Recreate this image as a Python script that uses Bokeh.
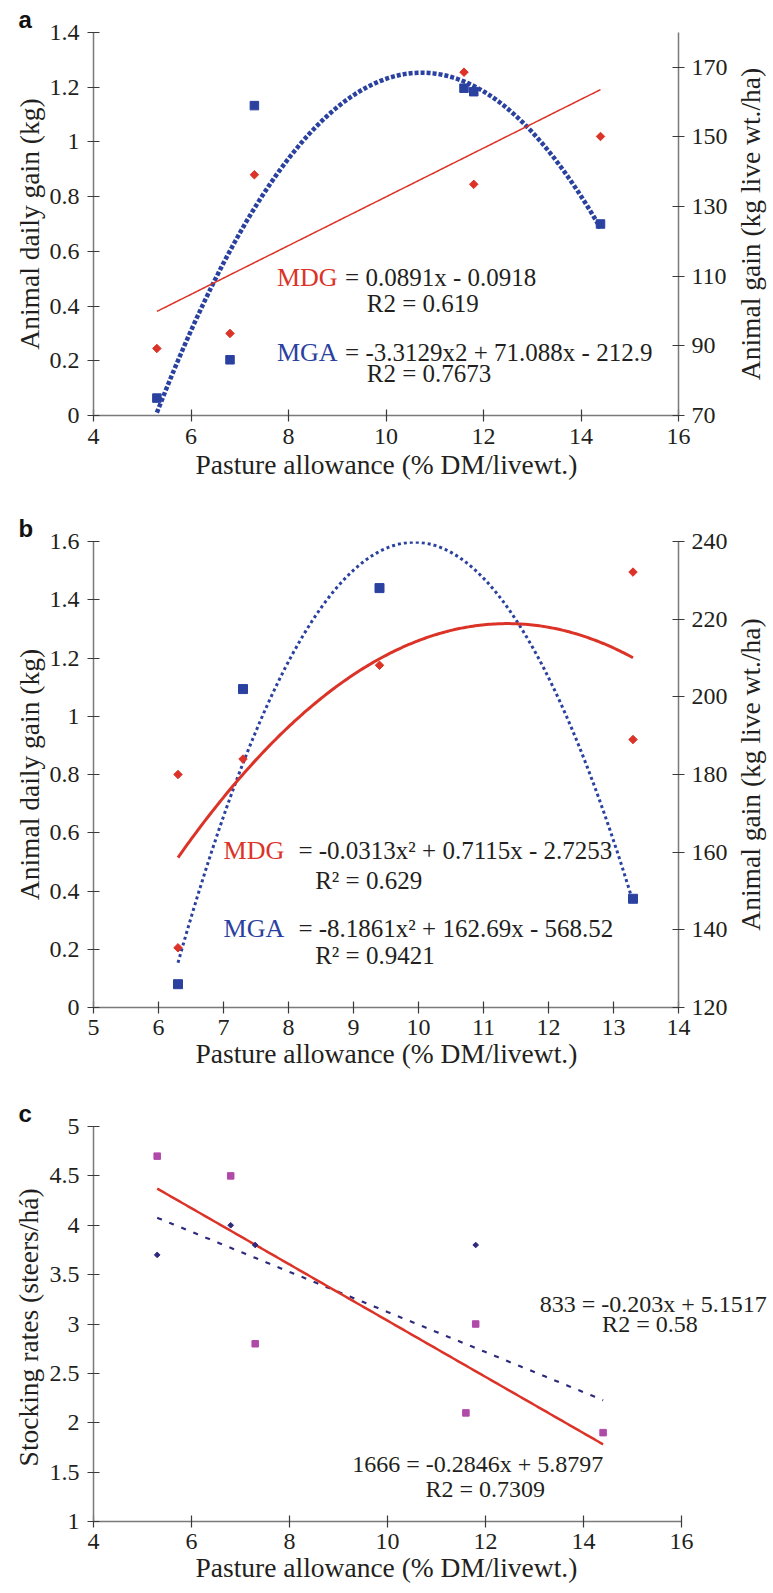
import numpy as np
from bokeh.plotting import figure
from bokeh.models import Range1d, LinearAxis, FixedTicker, Label, Title
from bokeh.layouts import column, row
from bokeh.embed import file_html
from bokeh.resources import INLINE

# ---------------- data ----------------
# Panel a
a_pasture = [5.3, 6.8, 7.3, 11.6, 11.8, 14.4]
a_mdg = [0.245, 0.30, 0.88, 1.255, 0.845, 1.02]
a_mga = [75.0, 86.0, 159.0, 164.0, 163.0, 125.0]
a_mdg_fit = [0.0891, -0.0918]
a_mga_fit = [-3.3129, 71.088, -212.9]
a_fit_span = [5.3, 14.4]
a_x_ticks = [4, 6, 8, 10, 12, 14, 16]
a_left_ticks = [0, 0.2, 0.4, 0.6, 0.8, 1, 1.2, 1.4]
a_left_labels = ["0", "0.2", "0.4", "0.6", "0.8", "1", "1.2", "1.4"]
a_right_ticks = [70, 90, 110, 130, 150, 170]

# Panel b
b_mdg_x = [6.3, 6.3, 7.3, 9.4, 13.3, 13.3]
b_mdg = [0.80, 0.205, 0.853, 1.175, 1.495, 0.92]
b_mga_x = [6.3, 7.3, 9.4, 13.3]
b_mga = [126.0, 202.0, 228.0, 148.0]
b_mdg_fit = [-0.0313, 0.7115, -2.7253]
b_mga_fit = [-8.1861, 162.69, -568.52]
b_fit_span = [6.3, 13.3]
b_x_ticks = [5, 6, 7, 8, 9, 10, 11, 12, 13, 14]
b_left_ticks = [0, 0.2, 0.4, 0.6, 0.8, 1, 1.2, 1.4, 1.6]
b_left_labels = ["0", "0.2", "0.4", "0.6", "0.8", "1", "1.2", "1.4", "1.6"]
b_right_ticks = [120, 140, 160, 180, 200, 220, 240]

# Panel c
c_x_1666 = [5.3, 6.8, 7.3, 11.6, 11.8, 14.4]
c_1666 = [4.7, 4.5, 2.8, 2.1, 3.0, 1.9]
c_x_833 = [5.3, 6.8, 7.3, 11.8]
c_833 = [3.7, 4.0, 3.8, 3.8]
c_fit_1666 = [-0.2846, 5.8797]
c_fit_833 = [-0.203, 5.1517]
c_fit_span = [5.3, 14.4]
c_x_ticks = [4, 6, 8, 10, 12, 14, 16]
c_y_ticks = [1, 1.5, 2, 2.5, 3, 3.5, 4, 4.5, 5]
c_y_labels = ["1", "1.5", "2", "2.5", "3", "3.5", "4", "4.5", "5"]

# ---------------- style ----------------
SERIF = "Liberation Serif"
SANS = "Liberation Sans"
INK = "#231f20"
AXIS = "#7a7a7a"
TICK = "#3a3a3a"
RED = "#dc3328"
BLUE = "#2a41a0"
MAGENTA = "#b04aa9"
NAVY = "#2d2a7c"
TITLE_SIZE = "27.5px"
X_TITLE = "Pasture allowance (% DM/livewt.)"
RIGHT_TITLE = "Animal gain (kg live wt./ha)"


def base_fig(width, height, x_rng, y_rng, top, bottom, right):
    p = figure(width=width, height=height, x_range=Range1d(*x_rng), y_range=Range1d(*y_rng),
               output_backend="svg", toolbar_location=None,
               min_border_top=top, min_border_bottom=bottom,
               min_border_left=93, min_border_right=right)
    p.outline_line_color = None
    p.xgrid.visible = False
    p.ygrid.visible = False
    p.background_fill_color = "white"
    p.border_fill_color = "white"
    return p


def style_axis(ax, ticks, labels=None, label_standoff=8, title_standoff=2):
    ax.ticker = FixedTicker(ticks=ticks)
    if labels is not None:
        ax.major_label_overrides = dict(zip(ticks, labels))
    ax.axis_line_color = AXIS
    ax.axis_line_width = 1.5
    ax.major_tick_line_color = TICK
    ax.major_tick_line_width = 1.2
    ax.major_tick_in = 6
    ax.major_tick_out = 6
    ax.minor_tick_line_color = None
    ax.major_label_text_font = SERIF
    ax.major_label_text_font_size = "24px"
    ax.major_label_text_color = INK
    ax.major_label_standoff = label_standoff
    ax.axis_label_text_font = SERIF
    ax.axis_label_text_font_size = TITLE_SIZE
    ax.axis_label_text_font_style = "normal"
    ax.axis_label_text_color = INK
    ax.axis_label_standoff = title_standoff


def x_title(p, standoff):
    p.add_layout(Title(text=X_TITLE, align="left", offset=102, standoff=standoff,
                       vertical_align="top", text_font=SERIF, text_font_size=TITLE_SIZE,
                       text_font_style="normal", text_color=INK), "below")


def text(p, x, y, s, color=INK, size="25px"):
    p.add_layout(Label(x=x, y=y, text=s, text_font=SERIF, text_font_size=size,
                       text_color=color, text_align="left", text_baseline="middle"))


def letter(p, s, offset):
    p.title.text = s
    p.title.align = "left"
    p.title.offset = offset
    p.title.standoff = 0
    p.title.vertical_align = "bottom"
    p.title.text_font = SANS
    p.title.text_font_size = "24px"
    p.title.text_font_style = "bold"
    p.title.text_color = "#111111"


def side_title(width, height, top, bottom):
    # a narrow figure whose (tick-less) left axis carries the right-hand axis title
    s = figure(width=width, height=height, x_range=Range1d(0, 1), y_range=Range1d(0, 1),
               output_backend="svg", toolbar_location=None, x_axis_type=None,
               min_border_left=35, min_border_right=0, min_border_top=top,
               min_border_bottom=bottom)
    s.outline_line_color = None
    s.xgrid.visible = False
    s.ygrid.visible = False
    s.background_fill_color = "white"
    s.border_fill_color = "white"
    ax = s.yaxis[0]
    ax.ticker = FixedTicker(ticks=[])
    ax.axis_line_color = None
    ax.major_tick_line_color = None
    ax.minor_tick_line_color = None
    ax.major_tick_in = 0
    ax.major_tick_out = 0
    ax.major_label_standoff = 0
    ax.axis_label = RIGHT_TITLE
    ax.axis_label_standoff = 0
    ax.axis_label_text_font = SERIF
    ax.axis_label_text_font_size = TITLE_SIZE
    ax.axis_label_text_font_style = "normal"
    ax.axis_label_text_color = INK
    return s


def fit_line(coef, span, n=200):
    xs = np.linspace(span[0], span[1], n)
    return xs, np.polyval(coef, xs)


MAIN_W = 730
SIDE_W = 773 - MAIN_W

# ---------------- panel a ----------------
pa = base_fig(MAIN_W, 495, (4, 16), (0, 1.4), top=32, bottom=80, right=MAIN_W - 679)
pa.extra_y_ranges = {"r": Range1d(70, 180)}
style_axis(pa.xaxis[0], a_x_ticks, label_standoff=7)
x_title(pa, 4)
style_axis(pa.yaxis[0], a_left_ticks, a_left_labels, title_standoff=2)
pa.yaxis[0].axis_label = "Animal daily gain (kg)"
ra = LinearAxis(y_range_name="r")
style_axis(ra, a_right_ticks, label_standoff=7)
pa.add_layout(ra, "right")
letter(pa, "a", -75)

xs, ys = fit_line(a_mga_fit, a_fit_span)
pa.line(xs, ys, y_range_name="r", line_color=BLUE, line_width=4.5, line_dash="4 2")
xs, ys = fit_line(a_mdg_fit, a_fit_span)
pa.line(xs, ys, line_color=RED, line_width=1.5)
pa.scatter(a_pasture, a_mga, y_range_name="r", marker="square", size=8.5, color=BLUE)
pa.scatter(a_pasture, a_mdg, marker="square", angle=np.pi / 4, size=6, color=RED)

text(pa, 7.762, 0.5055, "MDG", color=RED, size="26px")
text(pa, 9.161, 0.5055, "= 0.0891x - 0.0918")
text(pa, 9.605, 0.4105, "R2 = 0.619")
text(pa, 7.762, 0.2314, "MGA", color=BLUE, size="26px")
text(pa, 9.161, 0.2314, "= -3.3129x2 + 71.088x - 212.9")
text(pa, 9.605, 0.1546, "R2 = 0.7673")
sa = side_title(SIDE_W, 495, 32, 80)

# ---------------- panel b ----------------
pb = base_fig(MAIN_W, 587, (5, 14), (0, 1.6), top=46, bottom=75, right=MAIN_W - 679)
pb.extra_y_ranges = {"r": Range1d(120, 240)}
style_axis(pb.xaxis[0], b_x_ticks, label_standoff=6)
x_title(pb, 0)
style_axis(pb.yaxis[0], b_left_ticks, b_left_labels, title_standoff=2)
pb.yaxis[0].axis_label = "Animal daily gain (kg)"
rb = LinearAxis(y_range_name="r")
style_axis(rb, b_right_ticks, label_standoff=7)
pb.add_layout(rb, "right")
letter(pb, "b", -75)

xs, ys = fit_line(b_mga_fit, b_fit_span)
pb.line(xs, ys, y_range_name="r", line_color=BLUE, line_width=3, line_dash="3 3")
xs, ys = fit_line(b_mdg_fit, b_fit_span)
pb.line(xs, ys, line_color=RED, line_width=3)
pb.scatter(b_mga_x, b_mga, y_range_name="r", marker="square", size=9, color=BLUE)
pb.scatter(b_mdg_x, b_mdg, marker="square", angle=np.pi / 4, size=6, color=RED)

text(pb, 7.001, 0.539, "MDG", color=RED, size="26px")
text(pb, 8.153, 0.539, "= -0.0313x\u00b2 + 0.7115x - 2.7253")
text(pb, 8.41, 0.436, "R\u00b2 = 0.629")
text(pb, 7.001, 0.270, "MGA", color=BLUE, size="26px")
text(pb, 8.153, 0.270, "= -8.1861x\u00b2 + 162.69x - 568.52")
text(pb, 8.41, 0.1785, "R\u00b2 = 0.9421")
sb = side_title(SIDE_W, 587, 46, 75)

# ---------------- panel c ----------------
C_X_END = 4 + (773 - 93) / 49.0
pc = base_fig(773, 510, (4, C_X_END), (1, 5), top=44, bottom=71, right=0)
style_axis(pc.xaxis[0], c_x_ticks, label_standoff=6)
pc.xaxis[0].bounds = (4, 16)
x_title(pc, 0)
style_axis(pc.yaxis[0], c_y_ticks, c_y_labels, title_standoff=3)
pc.yaxis[0].axis_label = "Stocking  rates (steers/h\u00e1)"
letter(pc, "c", -75)

xs, ys = fit_line(c_fit_833, c_fit_span)
pc.line(xs, ys, line_color=NAVY, line_width=2.2, line_dash="5 8")
xs, ys = fit_line(c_fit_1666, c_fit_span)
pc.line(xs, ys, line_color=RED, line_width=2.5)
pc.scatter(c_x_1666, c_1666, marker="square", size=6.5, color=MAGENTA)
pc.scatter(c_x_833, c_833, marker="square", angle=np.pi / 4, size=4, color=NAVY)

text(pc, 13.108, 3.204, "833 = -0.203x + 5.1517", size="24px")
text(pc, 14.38, 3.001, "R2 = 0.58", size="24px")
text(pc, 9.28, 1.583, "1666 = -0.2846x + 5.8797", size="24px")
text(pc, 10.776, 1.329, "R2 = 0.7309", size="24px")

layout = column(row(pa, sa), row(pb, sb), pc)
open("out.html", "w").write(file_html(layout, INLINE))
